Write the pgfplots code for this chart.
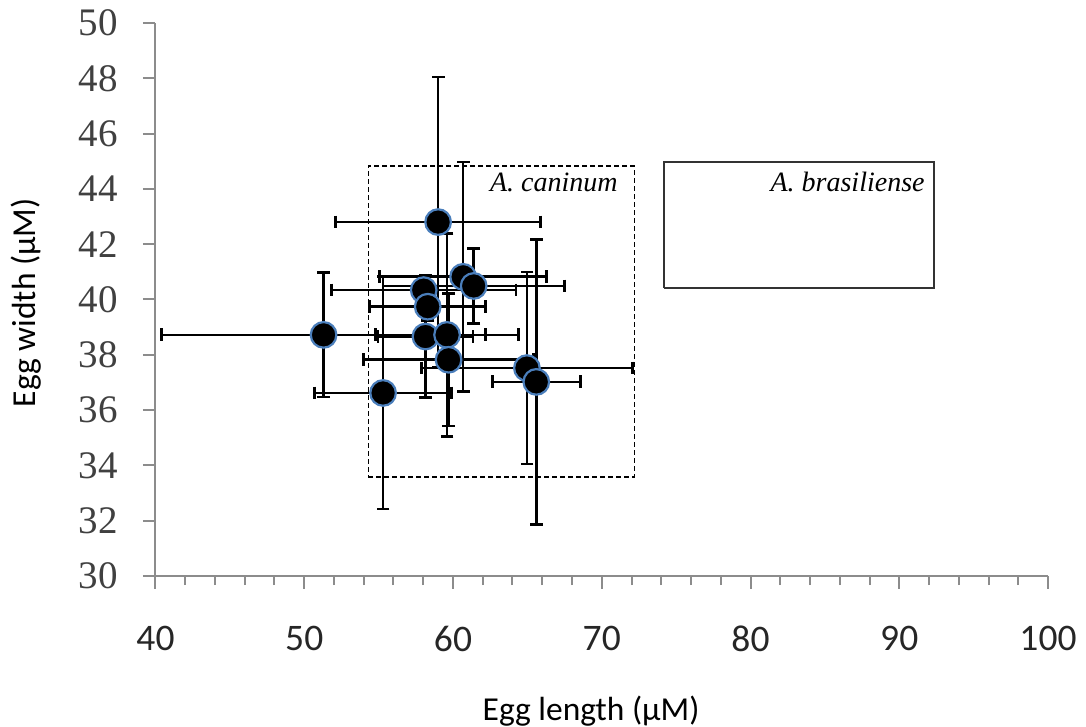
\documentclass[border=0pt]{standalone}
\usepackage{fontspec}
\setmainfont{Liberation Serif}
\newfontfamily\carlito{Carlito}
\usepackage{pgfplots}
\usepackage{pgfplotstable}
\pgfplotsset{compat=1.18}

\definecolor{axisgrey}{HTML}{8C8C8C}
\definecolor{ylab}{HTML}{404040}
\definecolor{xlab}{HTML}{262626}
\definecolor{ringblue}{HTML}{4A7EBB}

% egg length, egg width, sd length, sd width
\pgfplotstableread{
x     y     ex     ey
51.30 38.72 10.90  2.25
55.30 36.62  4.60  4.20
59.00 42.80  6.90  5.25
60.68 40.82  5.60  4.15
61.39 40.49  6.10  1.35
58.03 40.34  6.20  0.50
58.30 39.74  3.90  0.50
58.15 38.66  3.20  2.20
59.60 38.72  4.80  3.67
59.70 37.82  5.70  2.40
64.97 37.52  7.10  3.47
65.60 37.02  2.95  5.15
}\eggs

\pgfplotsset{
  cap/.style={only marks, mark=#1, mark size=3.2pt, black,
    mark options={black, line width=1.35pt}},
}

\begin{document}
\begin{tikzpicture}
\begin{axis}[
  scale only axis,
  width=446.25pt, height=276.5pt,
  xmin=40, xmax=100, ymin=30, ymax=50,
  axis lines*=left,
  axis line style={axisgrey, line width=1pt},
  xtick={40,50,...,100}, minor x tick num=4,
  ytick={30,32,...,50},
  tick align=outside,
  major tick length=6.25pt, minor tick length=4.5pt,
  every tick/.style={axisgrey, line width=1pt},
  minor tick style={axisgrey, line width=1pt},
  /pgf/number format/assume math mode=true,
  xticklabel style={font=\carlito\fontsize{18.75}{20}\selectfont, text=xlab, inner sep=0pt, anchor=north, yshift=-18.5pt},
  yticklabel style={font=\fontsize{19.5}{21}\selectfont, text=ylab, inner sep=0pt, anchor=east, xshift=-12.5pt},
  clip=false,
]
\coordinate (sw) at (rel axis cs:0,0);
\coordinate (ne) at (rel axis cs:1,1);

% axis titles
\node[anchor=base, inner sep=0pt, font=\carlito\fontsize{16.75}{18}\selectfont]
  at ([yshift=-72pt]rel axis cs:0.488,0) {Egg length (µM)};
\node[anchor=base, rotate=90, inner sep=0pt, font=\carlito\fontsize{16.75}{18}\selectfont]
  at ([xshift=-59.75pt]rel axis cs:0,0.494) {Egg width (µM)};

% species ranges
\addplot[black, line width=0.8pt, dash pattern=on 2.5pt off 1.5pt, mark=none, line join=miter]
  coordinates {(54.31,33.59) (72.19,33.59) (72.19,44.83) (54.31,44.83) (54.31,33.59)};
\addplot[black!80, line width=1pt, mark=none, line join=miter]
  coordinates {(74.19,40.40) (92.34,40.40) (92.34,44.98) (74.19,44.98) (74.19,40.40)};
\node[anchor=base east, inner sep=0pt, font=\itshape\fontsize{14}{16}\selectfont] at (axis cs:71.09,43.89) {A. caninum};
\node[anchor=base east, inner sep=0pt, font=\itshape\fontsize{14}{16}\selectfont] at (axis cs:91.73,43.89) {A. brasiliense};

% error bars
\addplot[only marks, mark=none,
  error bars/.cd, x dir=both, x explicit, y dir=both, y explicit,
  error mark=none,
  error bar style={black, line width=1.35pt}]
  table[x=x, y=y, x error=ex, y error=ey] {\eggs};
% end caps
\addplot[cap=|] table[x expr=\thisrow{x}-\thisrow{ex}, y=y] {\eggs};
\addplot[cap=|] table[x expr=\thisrow{x}+\thisrow{ex}, y=y] {\eggs};
\addplot[cap=-] table[x=x, y expr=\thisrow{y}-\thisrow{ey}] {\eggs};
\addplot[cap=-] table[x=x, y expr=\thisrow{y}+\thisrow{ey}] {\eggs};
% means
\addplot[only marks, mark=*, mark size=6.4pt,
  mark options={fill=black, draw=ringblue, line width=1.1pt}]
  table[x=x, y=y] {\eggs};
\end{axis}
\pgfresetboundingbox
\path ([xshift=-77.75pt, yshift=-75.5pt]sw) rectangle ([xshift=19pt, yshift=11.5pt]ne);
\end{tikzpicture}
\end{document}
